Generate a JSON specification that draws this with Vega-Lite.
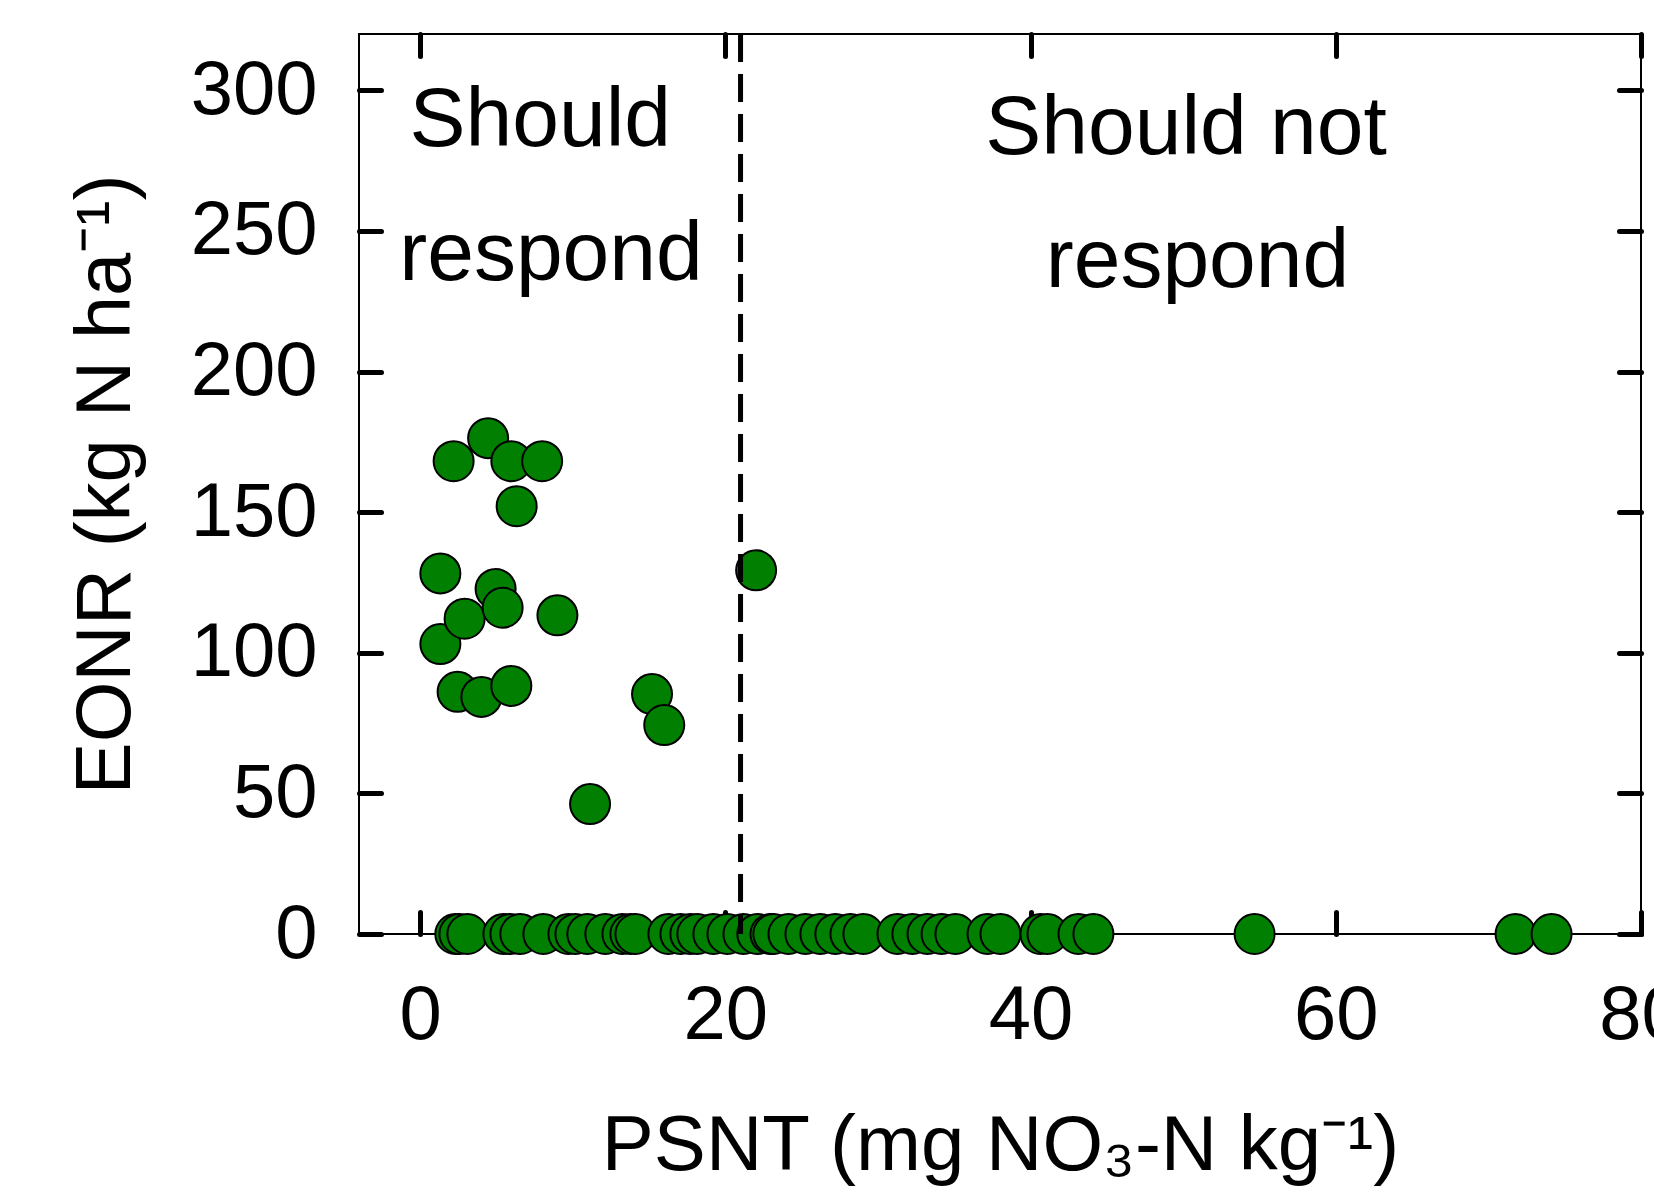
{
  "$schema": "https://vega.github.io/schema/vega-lite/v6.json",
  "autosize": {"type": "none"},
  "width": 1282,
  "height": 900,
  "padding": {"left": 359, "top": 34, "right": 13, "bottom": 270},
  "background": "white",
  "config": {
    "view": {"stroke": "black", "strokeWidth": 2},
    "font": "Liberation Sans",
    "axis": {
      "domain": false,
      "grid": false,
      "tickColor": "black",
      "tickWidth": 5,
      "tickSize": -22,
      "tickCap": "round",
      "labelFlush": false,
      "labelFont": "Liberation Sans",
      "labelFontSize": 76,
      "labelColor": "black",
      "titleFont": "Liberation Sans",
      "titleFontWeight": "normal",
      "titleColor": "black"
    }
  },
  "datasets": {
    "points": [
      {"psnt": 1.33, "eonr": 128.2}, {"psnt": 1.33, "eonr": 103.1}, {"psnt": 2.20, "eonr": 168.1},
      {"psnt": 2.31, "eonr": 0}, {"psnt": 2.46, "eonr": 86.1}, {"psnt": 2.58, "eonr": 0},
      {"psnt": 2.92, "eonr": 112.1}, {"psnt": 3.10, "eonr": 0}, {"psnt": 4.02, "eonr": 84.3},
      {"psnt": 4.46, "eonr": 176.3}, {"psnt": 4.95, "eonr": 122.7}, {"psnt": 5.41, "eonr": 116.0},
      {"psnt": 5.46, "eonr": 0}, {"psnt": 5.92, "eonr": 0}, {"psnt": 5.98, "eonr": 168.1},
      {"psnt": 5.98, "eonr": 88.2}, {"psnt": 6.33, "eonr": 152.1}, {"psnt": 6.57, "eonr": 0},
      {"psnt": 8.0, "eonr": 168.1}, {"psnt": 8.08, "eonr": 0}, {"psnt": 9.0, "eonr": 113.3},
      {"psnt": 9.72, "eonr": 0}, {"psnt": 10.18, "eonr": 0}, {"psnt": 10.96, "eonr": 0},
      {"psnt": 11.14, "eonr": 46.2}, {"psnt": 12.14, "eonr": 0}, {"psnt": 13.26, "eonr": 0},
      {"psnt": 13.78, "eonr": 0}, {"psnt": 14.11, "eonr": 0}, {"psnt": 15.2, "eonr": 85.3},
      {"psnt": 16.0, "eonr": 74.3}, {"psnt": 16.27, "eonr": 0}, {"psnt": 17.06, "eonr": 0},
      {"psnt": 17.71, "eonr": 0}, {"psnt": 18.17, "eonr": 0}, {"psnt": 19.22, "eonr": 0},
      {"psnt": 20.14, "eonr": 0}, {"psnt": 21.19, "eonr": 0}, {"psnt": 22.02, "eonr": 129.3},
      {"psnt": 22.10, "eonr": 0}, {"psnt": 22.96, "eonr": 0}, {"psnt": 23.15, "eonr": 0},
      {"psnt": 24.14, "eonr": 0}, {"psnt": 25.25, "eonr": 0}, {"psnt": 26.23, "eonr": 0},
      {"psnt": 27.21, "eonr": 0}, {"psnt": 28.20, "eonr": 0}, {"psnt": 29.05, "eonr": 0},
      {"psnt": 31.28, "eonr": 0}, {"psnt": 32.26, "eonr": 0}, {"psnt": 33.25, "eonr": 0},
      {"psnt": 34.17, "eonr": 0}, {"psnt": 35.08, "eonr": 0}, {"psnt": 37.18, "eonr": 0},
      {"psnt": 38.03, "eonr": 0}, {"psnt": 40.65, "eonr": 0}, {"psnt": 41.11, "eonr": 0},
      {"psnt": 43.14, "eonr": 0}, {"psnt": 44.12, "eonr": 0}, {"psnt": 54.68, "eonr": 0},
      {"psnt": 71.78, "eonr": 0}, {"psnt": 74.14, "eonr": 0}
    ],
    "threshold": [{"psnt": 21}],
    "labels": [
      {"text": "Should", "psnt": 7.88, "eonr": 280.1},
      {"text": "respond", "psnt": 8.58, "eonr": 232.5},
      {"text": "Should not", "psnt": 50.19, "eonr": 277.5},
      {"text": "respond", "psnt": 50.94, "eonr": 229.9}
    ]
  },
  "layer": [
    {
      "data": {"name": "points"},
      "mark": {"type": "point", "shape": "circle", "filled": true, "fill": "#007f00", "stroke": "black", "strokeWidth": 2, "size": 1600, "opacity": 1},
      "encoding": {
        "x": {"field": "psnt", "type": "quantitative",
              "scale": {"domain": [-4, 80], "nice": false, "zero": false},
              "axis": {"orient": "bottom", "values": [0, 20, 40, 60, 80], "labelPadding": 66,
                       "title": "PSNT (mg NO₃-N kg⁻¹)", "titleFontSize": 78, "titlePadding": 54}},
        "y": {"field": "eonr", "type": "quantitative",
              "scale": {"domain": [0, 320], "nice": false},
              "axis": {"orient": "left", "values": [0, 50, 100, 150, 200, 250, 300], "labelPadding": 64,
                       "title": "EONR (kg N ha⁻¹)", "titleFontSize": 78, "titlePadding": 45}}
      }
    },
    {
      "data": {"name": "threshold"},
      "mark": {"type": "rule", "stroke": "black", "strokeWidth": 5, "strokeDash": [28, 12]},
      "encoding": {
        "x": {"field": "psnt", "type": "quantitative", "axis": null}
      }
    },
    {
      "data": {"name": "labels"},
      "mark": {"type": "text", "fontSize": 84, "font": "Liberation Sans", "align": "center", "baseline": "alphabetic", "color": "black"},
      "encoding": {
        "text": {"field": "text"},
        "x": {"field": "psnt", "type": "quantitative",
              "axis": {"orient": "top", "values": [0, 20, 40, 60, 80], "labels": false, "title": null}},
        "y": {"field": "eonr", "type": "quantitative",
              "axis": {"orient": "right", "values": [0, 50, 100, 150, 200, 250, 300], "labels": false, "title": null}}
      }
    }
  ],
  "resolve": {"axis": {"x": "independent", "y": "independent"}}
}
